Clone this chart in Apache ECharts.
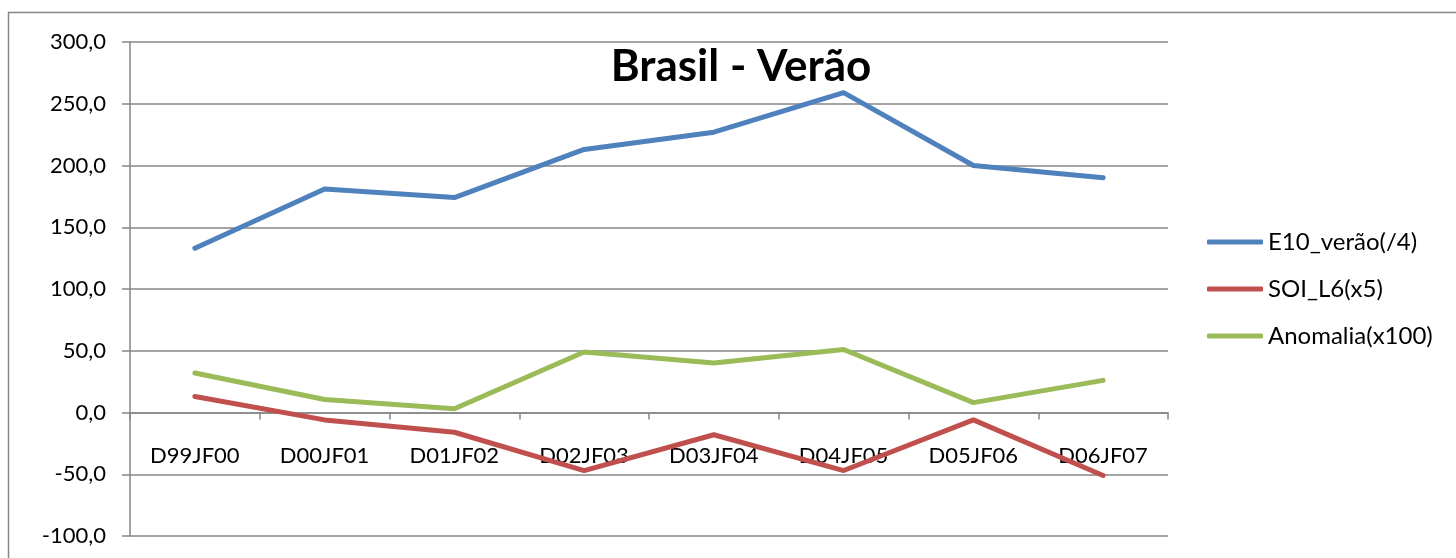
<!DOCTYPE html>
<html>
<head>
<meta charset="utf-8">
<script src="https://cdn.jsdelivr.net/npm/echarts@6/dist/echarts.min.js"></script>
<style>
  html, body { margin: 0; padding: 0; background: #fff; }
  #chart { width: 1456px; height: 558px; }
</style>
</head>
<body>
<div id="chart"></div>
<script>
// 数据
const categories = ['D99JF00', 'D00JF01', 'D01JF02', 'D02JF03', 'D03JF04', 'D04JF05', 'D05JF06', 'D06JF07'];
const e10Verao = [133, 181, 174, 213, 227, 259, 200, 190];
const soiL6 = [13, -6, -16, -47, -18, -47, -6, -51];
const anomalia = [32, 10.5, 3, 49, 40, 51, 8, 26];
const seriesNames = ['E10_verão(/4)', 'SOI_L6(x5)', 'Anomalia(x100)'];
const colors = ['#4F81BD', '#C0504D', '#9BBB59'];

var chart = echarts.init(document.getElementById('chart'));

const fontFamily = 'Lato, "Open Sans", sans-serif';

function lineSeries(name, data, color) {
    return {
        name: name,
        type: 'line',
        data: data,
        symbol: 'none',
        lineStyle: { color: color, width: 5, cap: 'round', join: 'round' },
        itemStyle: { color: color }
    };
}

var option = {
    animation: false,
    title: {
        text: 'Brasil - Verão',
        left: 736,
        top: 40,
        textAlign: 'center',
        textStyle: { fontFamily: fontFamily, fontSize: 44, fontWeight: 'bold', color: '#000' }
    },
    legend: {
        orient: 'vertical',
        left: 1207,
        top: 230,
        padding: 0,
        icon: 'roundRect',
        itemWidth: 56,
        itemHeight: 5,
        itemGap: 23,
        textStyle: { fontFamily: fontFamily, fontSize: 24, color: '#000', lineHeight: 24 },
        data: seriesNames
    },
    grid: {
        left: 130,
        right: 288,
        top: 42,
        bottom: 22,
        containLabel: false,
        outerBoundsMode: 'none'
    },
    xAxis: {
        type: 'category',
        data: categories,
        boundaryGap: true,
        axisLine: { onZero: true, lineStyle: { color: '#868686', width: 1.5 } },
        axisTick: { show: true, length: 7, inside: false, interval: 0, lineStyle: { color: '#868686', width: 1.5 } },
        // 标签位置相对网格底边
        axisLabel: { margin: -91, fontFamily: fontFamily, fontSize: 22, color: '#000', interval: 0, hideOverlap: false }
    },
    yAxis: {
        type: 'value',
        min: -100,
        max: 300,
        interval: 50,
        axisLine: { show: true, lineStyle: { color: '#868686', width: 1.5 } },
        axisTick: { show: true, length: 8, lineStyle: { color: '#868686', width: 1.5 } },
        axisLabel: {
            margin: 24,
            fontFamily: fontFamily,
            fontSize: 22,
            color: '#000',
            formatter: function (v) { return v.toFixed(1).replace('.', ','); }
        },
        splitLine: { show: true, lineStyle: { color: '#868686', width: 1.5 } }
    },
    graphic: [
        {
            type: 'rect',
            shape: { x: 8.5, y: 12.5, width: 1600, height: 700 },
            style: { fill: null, stroke: '#868686', lineWidth: 1.5 },
            silent: true
        }
    ],
    series: [
        lineSeries(seriesNames[0], e10Verao, colors[0]),
        lineSeries(seriesNames[1], soiL6, colors[1]),
        lineSeries(seriesNames[2], anomalia, colors[2])
    ]
};

chart.setOption(option);
</script>
</body>
</html>
